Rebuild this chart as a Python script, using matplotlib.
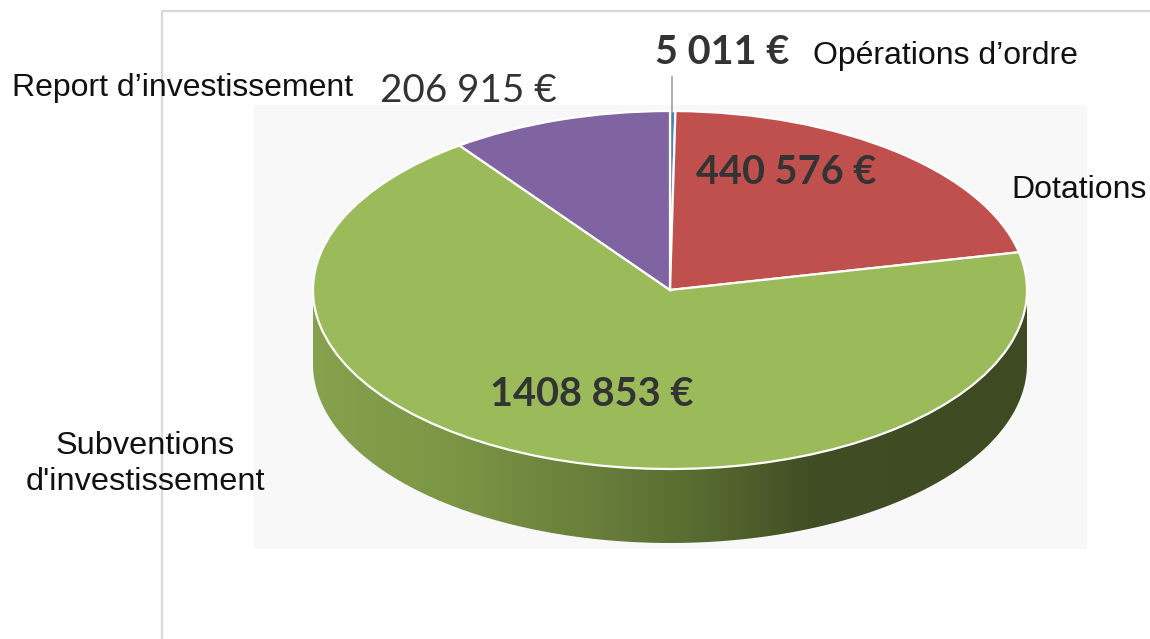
#!/usr/bin/env python3
"""Camembert 3D des recettes d'investissement"""

import numpy as np
import matplotlib
matplotlib.use('Agg')
import matplotlib.pyplot as plt
from matplotlib.colors import LinearSegmentedColormap
from matplotlib.patches import Polygon, Rectangle

W, H = 1150, 639

categories = ["Opérations d’ordre", "Dotations", "Subventions\nd'investissement", "Report d’investissement"]
values = [5011, 440576, 1408853, 206915]
value_labels = ["5 011 €", "440 576 €", "1408 853 €", "206 915 €"]
colors = ['#4f81bd', '#c0504d', '#9bba59', '#8064a2']

# geometrie du disque en pixels
CX, CY, RX, RY, DEPTH = 670, 290, 357, 179, 74

fig = plt.figure(figsize=(W / 100, H / 100), dpi=100, facecolor='white')
ax = fig.add_axes([0, 0, 1, 1])


def px(x, y):
    """Pixels de l'image -> unites du disque"""
    return (x - CX) / RX, (CY - y) / RY


def label(x, y, txt, **kw):
    fig.text(x / W, 1 - y / H, txt, va='center', **kw)


# Fond et cadre
x0, y0 = px(254, 549)
x1, y1 = px(1087, 105)
ax.add_patch(Rectangle((x0, y0), x1 - x0, y1 - y0, fc='#f8f8f8', ec='none', zorder=0))
ax.plot(*zip(px(162, 639), px(162, 11.5), px(1150, 11.5)), color='#d9d9d9', lw=1.6, zorder=1)

# Tranche laterale avec degrade
theta = np.linspace(np.pi, 2 * np.pi, 200)
depth = DEPTH / RY
top = np.column_stack([np.cos(theta), np.sin(theta)])
bottom = top[::-1] - [0, depth]
wall = Polygon(np.vstack([top, bottom]), closed=True, fc='none', ec='none', transform=ax.transData)
ax.add_patch(wall)
wall_cmap = LinearSegmentedColormap.from_list('wall', [
    (0.00, '#86a24c'), (0.20, '#7b9545'), (0.42, '#667b39'),
    (0.56, '#55682f'), (0.70, '#414d24'), (1.00, '#3e4a22')])
img = ax.imshow(np.linspace(0, 1, 256)[None, :], cmap=wall_cmap, aspect='auto',
                extent=(-1, 1, -1 - depth, 0), zorder=2)
img.set_clip_path(wall)

# Disque
wedges, _ = ax.pie(values, colors=colors, startangle=90, counterclock=False, radius=1,
                   wedgeprops={'edgecolor': 'white', 'linewidth': 1.6, 'zorder': 3})
ax.set_aspect('auto')
ax.set_xlim(*sorted((px(0, 0)[0], px(W, 0)[0])))
ax.set_ylim(px(0, H)[1], px(0, 0)[1])
ax.axis('off')

# Trait de rappel
ax.plot(*zip(px(672, 77), px(672, 112)), color='#a6a6a6', lw=1.3, zorder=4)

# Textes
sans = 'Liberation Sans'
val = 'Lato'
dark = '#333333'
label(813, 56, categories[0], family=sans, fontsize=23, color='#111111')
label(1011, 190, categories[1], family=sans, fontsize=23, color='#111111')
label(145, 464, categories[2], family=sans, fontsize=23.4, color='#111111', ha='center', linespacing=1.3)
label(12, 88, categories[3], family=sans, fontsize=23, color='#111111')

label(655, 53, value_labels[0], family=val, fontsize=28.6, color=dark, weight='bold')
label(696, 173, value_labels[1], family=val, fontsize=28.6, color=dark, weight='bold')
label(490, 394, value_labels[2], family=val, fontsize=28.6, color=dark, weight='bold')
label(380, 91, value_labels[3], family=val, fontsize=27.8, color=dark)

fig.savefig('out.png', dpi=100, facecolor='white')
